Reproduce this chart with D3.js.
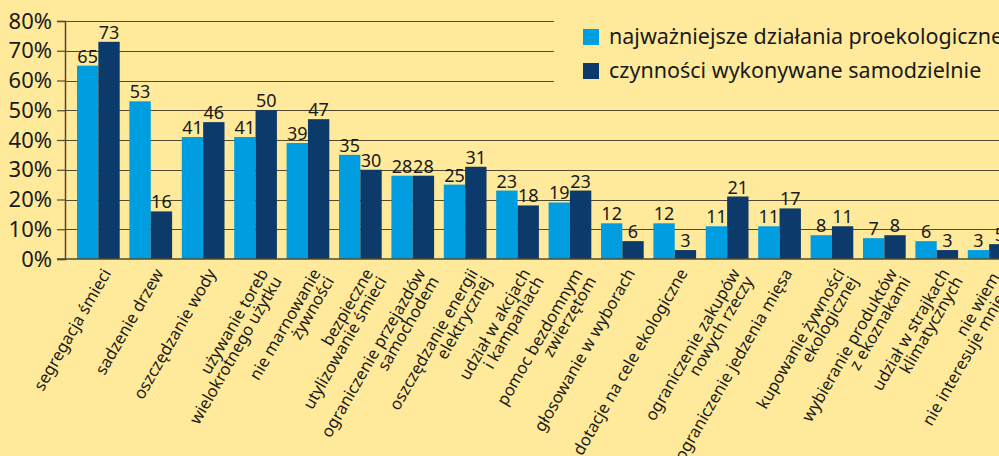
<!DOCTYPE html>
<html>
<head>
<meta charset="utf-8">
<script src="https://cdn.jsdelivr.net/npm/d3@7"></script>
<style>
  body { margin: 0; background: #ffe99a; }
  svg { display: block; font-family: "Noto Sans", sans-serif; }
</style>
</head>
<body>
<div id="chart"></div>
<script>
/* dane z wykresu */
const categories = [
  ["segregacja śmieci"],
  ["sadzenie drzew"],
  ["oszczędzanie wody"],
  ["używanie toreb", "wielokrotnego użytku"],
  ["nie marnowanie", "żywności"],
  ["bezpieczne", "utylizowanie śmieci"],
  ["ograniczenie przejazdów", "samochodem"],
  ["oszczędzanie energii", "elektrycznej"],
  ["udział w akcjach", "i kampaniach"],
  ["pomoc bezdomnym", "zwierzętom"],
  ["głosowanie w wyborach"],
  ["dotacje na cele ekologiczne"],
  ["ograniczenie zakupów", "nowych rzeczy"],
  ["ograniczenie jedzenia mięsa"],
  ["kupowanie żywności", "ekologicznej"],
  ["wybieranie produktów", "z ekoznakami"],
  ["udział w strajkach", "klimatycznych"],
  ["nie wiem,", "nie interesuje mnie to"]
];
const najwazniejsze = [65, 53, 41, 41, 39, 35, 28, 25, 23, 19, 12, 12, 11, 11, 8, 7, 6, 3];
const samodzielnie = [73, 16, 46, 50, 47, 30, 28, 31, 18, 23, 6, 3, 21, 17, 11, 8, 3, 5];
const seriesNames = ["najważniejsze działania proekologiczne", "czynności wykonywane samodzielnie"];
const yTicks = [0, 10, 20, 30, 40, 50, 60, 70, 80];

const width = 999, height = 456;
const colors = ["#009ee0", "#0b3a6b"];
const gridColor = "#534a30";
const textColor = "#1a1a1a";

const margin = {left: 65, top: 21, bottom: 197};
const plotBottom = height - margin.bottom;

const svg = d3.select("#chart").append("svg")
  .attr("width", width)
  .attr("height", height);

svg.append("rect").attr("width", width).attr("height", height).attr("fill", "#ffe99a");

const keys = categories.map((c, i) => i);

const x0 = d3.scaleBand()
  .domain(keys)
  .range([margin.left, margin.left + 957.5])
  .paddingInner(0.185)
  .paddingOuter(0.229);

const x1 = d3.scaleBand()
  .domain([0, 1])
  .range([0, x0.bandwidth()]);

const y = d3.scaleLinear()
  .domain([0, 80])
  .range([plotBottom, margin.top]);

/* linie siatki */
svg.append("g")
  .selectAll("line")
  .data(yTicks.filter(d => d > 0))
  .join("line")
  .attr("x1", margin.left)
  .attr("x2", width)
  .attr("y1", d => Math.round(y(d)) + 0.5)
  .attr("y2", d => Math.round(y(d)) + 0.5)
  .attr("stroke", gridColor)
  .attr("stroke-width", 1.2);

/* os Y */
const yAxis = svg.append("g")
  .attr("transform", `translate(${margin.left},0)`)
  .call(d3.axisLeft(y).tickValues(yTicks).tickSize(8).tickPadding(5).tickFormat(d => d + "%"));
yAxis.select(".domain").attr("stroke", gridColor).attr("stroke-width", 1.5);
yAxis.selectAll(".tick line").attr("stroke", gridColor).attr("stroke-width", 1.2);
yAxis.selectAll(".tick text")
  .attr("font-size", 22)
  .attr("font-family", "Noto Sans")
  .attr("fill", textColor);

/* słupki */
const rows = keys.map(i => [najwazniejsze[i], samodzielnie[i]]);

const groups = svg.append("g")
  .selectAll("g")
  .data(rows)
  .join("g")
  .attr("transform", (d, i) => `translate(${x0(i)},0)`);

groups.selectAll("rect")
  .data(d => d.map((v, s) => ({v, s})))
  .join("rect")
  .attr("x", d => x1(d.s))
  .attr("width", x1.bandwidth())
  .attr("y", d => y(d.v))
  .attr("height", d => plotBottom - y(d.v))
  .attr("fill", d => colors[d.s]);

groups.selectAll("text")
  .data(d => d.map((v, s) => ({v, s})))
  .join("text")
  .attr("x", d => x1(d.s) + x1.bandwidth() / 2)
  .attr("y", d => y(d.v) - 3)
  .attr("text-anchor", "middle")
  .attr("font-size", 18)
  .attr("fill", textColor)
  .text(d => d.v);

/* os X */
svg.append("line")
  .attr("x1", margin.left - 8)
  .attr("x2", width)
  .attr("y1", plotBottom)
  .attr("y2", plotBottom)
  .attr("stroke", gridColor)
  .attr("stroke-width", 1.5);

const labels = svg.append("g")
  .selectAll("text")
  .data(categories)
  .join("text")
  .attr("transform", (d, i) => `translate(${x0(i) + x0.bandwidth() / 2 + 3},${plotBottom + 8}) rotate(-60)`)
  .attr("text-anchor", "end")
  .attr("font-size", 16.5)
  .attr("fill", textColor);

labels.selectAll("tspan")
  .data(d => d)
  .join("tspan")
  .attr("x", 0)
  .attr("dy", (d, j) => j === 0 ? "0.72em" : "15.5")
  .text(d => d);

/* legenda */
svg.append("rect")
  .attr("x", 554)
  .attr("y", 0)
  .attr("width", width - 554)
  .attr("height", 95)
  .attr("fill", "#ffe99a");

const legend = svg.append("g")
  .selectAll("g")
  .data(seriesNames)
  .join("g")
  .attr("transform", (d, i) => `translate(583,${29 + i * 34})`);

legend.append("rect")
  .attr("width", 16)
  .attr("height", 16)
  .attr("fill", (d, i) => colors[i]);

legend.append("text")
  .attr("x", 26)
  .attr("y", 15)
  .attr("font-size", 21.5)
  .attr("fill", textColor)
  .text(d => d);
</script>
</body>
</html>
